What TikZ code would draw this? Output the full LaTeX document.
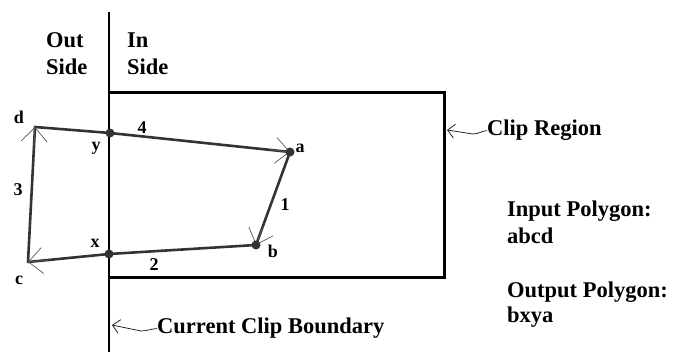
\documentclass[tikz,border=0pt]{standalone}
\usepackage{fontspec}
\setmainfont{Liberation Serif}
\usetikzlibrary{arrows.meta,calc}
\begin{document}
\begin{tikzpicture}[x=1pt,y=-1pt,
  big/.style={font=\fontsize{22.5}{26}\selectfont\bfseries, inner sep=0pt},
  small/.style={font=\fontsize{18}{21}\selectfont\bfseries, inner sep=0pt},
  polyedge/.style={line width=2.6pt, draw=black!80, line join=round},
  barb/.style={draw=black!65, line width=0.7pt, -{Straight Barb[length=14pt,width=26pt,line width=0.7pt]}},
  vertexdot/.style={circle, fill=black!80, inner sep=0pt, minimum size=9pt},
  pointer/.style={draw=black!85, line width=0.8pt, -{Straight Barb[length=7pt,width=14pt,line width=0.8pt]}}]

\useasboundingbox (0,0) rectangle (673,352);

% clip boundary and clip region
\coordinate (btop) at (109,12);
\coordinate (bbot) at (109,352);
\draw[line width=2.5pt] (btop) -- (bbot);
\coordinate (rtl) at (109,92.5);
\coordinate (rtr) at (444,92.5);
\coordinate (rbr) at (444,278);
\coordinate (rbl) at (109,278);
\draw[line width=3pt, line join=miter] (rtl) -- (rtr) -- (rbr) -- (rbl);

% polygon vertices
\coordinate (a) at (290,152);
\coordinate (b) at (256,245);
\coordinate (c) at (28,262);
\coordinate (d) at (35,127);
\coordinate (x) at (109,254);
\coordinate (y) at (110,133);

\draw[polyedge] (a) -- (b) -- (x) -- (c) -- (d) -- (y) -- (a);

\draw[barb] ($(b)!20pt!(a)$) -- (b);
\draw[barb] ($(c)!20pt!(x)$) -- (c);
\draw[barb] ($(d)!20pt!(c)$) -- (d);
\draw[barb] ($(a)!20pt!(y)$) -- (a);

\node[vertexdot] (da) at (a) {};
\node[vertexdot] (db) at (b) {};
\node[vertexdot] (dx) at (x) {};
\node[vertexdot] (dy) at (y) {};

% vertex labels
\node[small] (la) at (300,148) {a};
\node[small] (lb) at (273,251) {b};
\node[small] (lc) at (19,280) {c};
\node[small] (ld) at (19,117) {d};
\node[small] (lx) at (95,243) {x};
\node[small] (ly) at (96,148) {y};

% edge numbers
\node[small] (e1) at (285,205) {1};
\node[small] (e2) at (154,265) {2};
\node[small] (e3) at (18,190) {3};
\node[small] (e4) at (142,128) {4};

% headings
\node[big, anchor=base west] (out1) at (46,48) {Out};
\node[big, anchor=base west] (out2) at (46,75) {Side};
\node[big, anchor=base west] (in1) at (127,48) {In};
\node[big, anchor=base west] (in2) at (127,75) {Side};

% clip region label
\node[big, anchor=base west] (cr) at (487,136) {Clip Region};
\coordinate (crtip) at (447,130);
\draw[pointer] (cr.west) .. controls +(-5,0) and +(6,0) .. (473,134) -- (crtip);

% current clip boundary label
\node[big, anchor=base west] (ccb) at (157,334) {Current Clip Boundary};
\coordinate (ccbtip) at (112,325);
\draw[pointer] (ccb.west) .. controls +(-5,0) and +(6,0) .. (141,331) -- (ccbtip);

% polygons text
\node[big, anchor=base west] (ip) at (507,217) {Input Polygon:};
\node[big, anchor=base west] (ipv) at (507,244) {abcd};
\node[big, anchor=base west] (op) at (507,298) {Output Polygon:};
\node[big, anchor=base west] (opv) at (507,323) {bxya};
\end{tikzpicture}
\end{document}
